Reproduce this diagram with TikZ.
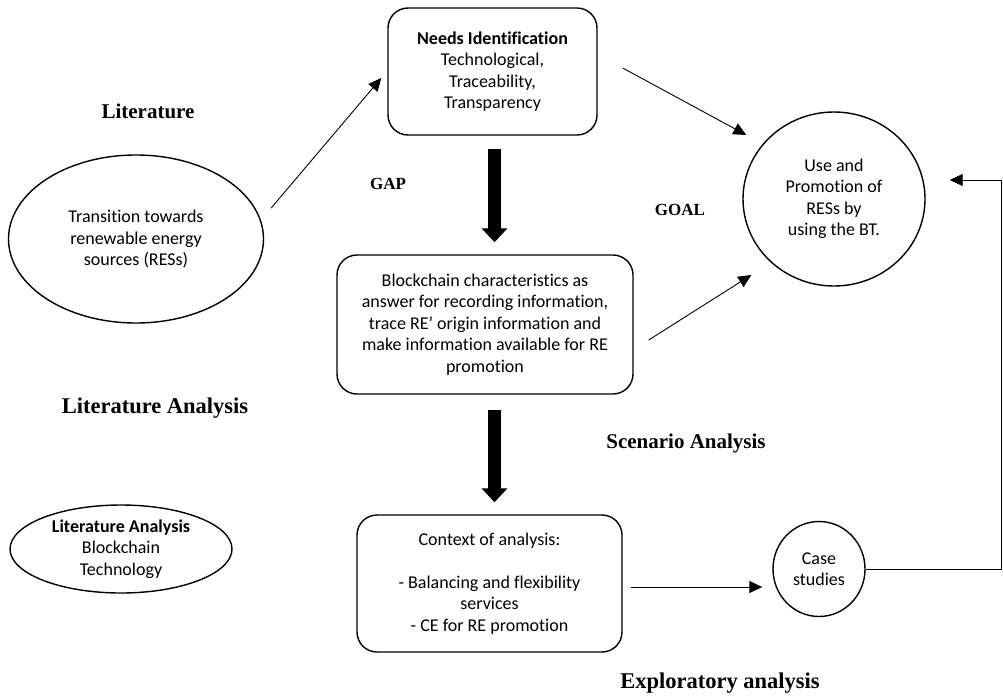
\documentclass[tikz,border=0pt]{standalone}
\usepackage{fontspec}
\setmainfont{Carlito}[Ligatures=NoCommon]
\newfontfamily\labfont{Liberation Serif}
\usetikzlibrary{arrows.meta,shapes.geometric}
\begin{document}
\begin{tikzpicture}[x=1pt,y=-1pt,
  box/.style={draw,line width=1.4pt,rounded corners=20pt,align=center,inner sep=0pt,font=\fontsize{18}{21.5}\selectfont},
  oval/.style={draw,ellipse,line width=1.4pt,align=center,inner sep=0pt,font=\fontsize{18}{21.5}\selectfont},
  lab/.style={font=\labfont\bfseries\fontsize{21}{24}\selectfont},
  labbig/.style={font=\labfont\bfseries\fontsize{22.5}{26}\selectfont},
  labsm/.style={font=\labfont\bfseries\fontsize{17}{20}\selectfont},
  arr/.style={line width=0.9pt,-{Triangle[length=13pt,width=12pt]}},
  bigarr/.style={line width=13pt,-{Triangle[length=14pt,width=25pt]}}
]
\useasboundingbox (0,0) rectangle (1003,696);

% boxes
\node[box,minimum width=209pt,minimum height=127pt] (needs) at (492.5,71.5)
  {\textbf{Needs Identification}\\Technological,\\Traceability,\\Transparency};
\node[box,minimum width=296pt,minimum height=139pt] (bc) at (485,324.5)
  {Blockchain characteristics as\\answer for recording information,\\trace RE’ origin information and\\make information available for RE\\promotion};
\node[box,minimum width=265pt,minimum height=137pt] (ctx) at (489.5,583.5)
  {Context of analysis:\\\mbox{}\\- Balancing and flexibility\\services\\- CE for RE promotion};

% ovals
\node[oval,minimum width=255pt,minimum height=168pt] (trans) at (136,239)
  {Transition towards\\renewable energy\\sources (RESs)};
\node[oval,minimum width=222pt,minimum height=88pt] (litb) at (121,549)
  {\textbf{Literature Analysis}\\Blockchain\\Technology};
\node[oval,minimum width=182pt,minimum height=174pt] (use) at (834,199)
  {Use and\\Promotion of\\RESs by\\using the BT.};
\node[oval,minimum width=92pt,minimum height=95pt] (case) at (819,569)
  {Case\\studies};

% labels
\node[lab] (l1) at (148,111) {Literature};
\node[labsm] (gap) at (388,184) {GAP};
\node[labsm] (goal) at (680,210) {GOAL};
\node[labbig] (l2) at (155,408) {Literature Analysis};
\node[lab] (l3) at (686,443) {Scenario Analysis};
\node[labbig] (l4) at (720,683) {Exploratory analysis};

% thin arrows
\draw[arr] ([xshift=7pt,yshift=31pt]trans.east) -- ([xshift=-6pt,yshift=-6.5pt]needs.west);
\draw[arr] ([xshift=25pt,yshift=3.5pt]needs.east) -- ([xshift=4pt,yshift=64pt]use.west);
\draw[arr] ([xshift=15pt,yshift=-15.5pt]bc.east) -- ([xshift=9pt,yshift=-76pt]use.west);
\draw[arr] ([xshift=8pt,yshift=-3.5pt]ctx.east) -- ([xshift=-10pt,yshift=-18pt]case.west);
\coordinate (rt) at (1001.5,180);
\coordinate (usein) at ([xshift=24pt,yshift=19pt]use.east);
\draw[arr] (case.east) -- (case.east -| rt) -- (rt) -- (usein);

% thick arrows
\draw[bigarr,shorten <=13pt,shorten >=12pt] ([xshift=2pt]needs.south) -- ([xshift=2pt]needs.south |- bc.north);
\draw[bigarr,shorten <=15pt,shorten >=12pt] ([xshift=9.5pt]bc.south) -- ([xshift=9.5pt]bc.south |- ctx.north);
\end{tikzpicture}
\end{document}
